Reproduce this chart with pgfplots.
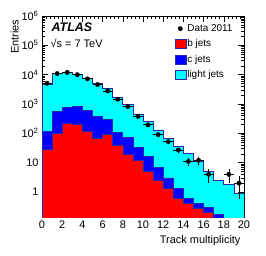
\documentclass[border=0pt]{standalone}
\usepackage{fontspec}
\setmainfont{Liberation Sans}
\usepackage{pgfplots}
\pgfplotsset{compat=1.18}
\definecolor{histline}{RGB}{40,40,170}
\definecolor{rootcyan}{RGB}{0,255,255}
\definecolor{rootblue}{RGB}{0,0,255}
\definecolor{rootred}{RGB}{255,0,0}
\begin{document}
\begin{tikzpicture}
\useasboundingbox (0,0) rectangle (266bp,256bp);
\begin{axis}[
 at={(42bp,39bp)}, anchor=south west,
 scale only axis, width=202bp, height=201bp,
 ymode=log, xmin=0, xmax=20, ymin=0.14, ymax=1e6,
 xtick={0,2,...,20}, minor x tick num=4,
 ytick={1,10,100,1000,10000,100000,1000000},
 yticklabels={1,10,10\textsuperscript{2},10\textsuperscript{3},10\textsuperscript{4},10\textsuperscript{5},10\textsuperscript{6}},
 minor ytick={0.2,0.3,0.4,0.5,0.6,0.7,0.8,0.9,2,3,4,5,6,7,8,9,20,30,40,50,60,70,80,90,200,300,400,500,600,700,800,900,2000,3000,4000,5000,6000,7000,8000,9000,20000,30000,40000,50000,60000,70000,80000,90000,200000,300000,400000,500000,600000,700000,800000,900000},
 tick align=inside, xtick pos=both, ytick pos=both, xticklabel pos=left, yticklabel pos=left,
 major tick length=6bp, minor tick length=3bp,
 /pgf/number format/assume math mode=true,
 ticklabel style={font=\fontsize{11}{13}\selectfont},
 xlabel={Track multiplicity}, ylabel={Entries},
 label style={font=\fontsize{11}{13}\selectfont},
 xlabel style={at={(ticklabel cs:1)}, anchor=north east},
 ylabel style={at={(ticklabel cs:1,-4bp)}, anchor=south east},
 axis line style={line width=0.8bp},
 every tick/.style={black, line width=0.6bp},
 legend style={at={(0.655,0.965)}, anchor=north west, draw=none, fill=none,
   font=\fontsize{10}{12}\selectfont, row sep=4.3bp, inner sep=0pt, nodes={inner sep=1.2bp}},
 legend cell align=left,
]
\addlegendimage{only marks, mark=*, mark size=2.2bp, black}
\addlegendentry{Data 2011}
\addlegendimage{legend image code/.code={\draw[fill=rootred, draw=histline, line width=0.6bp] (3bp,-4.5bp) rectangle (14bp,4.5bp);}}
\addlegendentry{b jets}
\addlegendimage{legend image code/.code={\draw[fill=rootblue, draw=histline, line width=0.6bp] (3bp,-4.5bp) rectangle (14bp,4.5bp);}}
\addlegendentry{c jets}
\addlegendimage{legend image code/.code={\draw[fill=rootcyan, draw=histline, line width=0.6bp] (3bp,-4.5bp) rectangle (14bp,4.5bp);}}
\addlegendentry{light jets}

% light jets (stack total)
\addplot[const plot, fill=rootcyan, draw=histline, line width=0.7bp, forget plot] coordinates {
(0,0.01) (0,4500) (1,11000) (2,12000) (3,10000) (4,7400) (5,5000) (6,3300) (7,1700) (8,950) (9,440)
(10,250) (11,130) (12,68) (13,35) (14,21) (15,11) (16,5) (17,2.5) (18,1.8) (19,0.9) (20,0.9) (20,0.01)} -- cycle;
% c jets (b+c)
\addplot[const plot, fill=rootblue, draw=histline, line width=0.7bp, forget plot] coordinates {
(0,0.01) (0,115) (1,560) (2,760) (3,820) (4,600) (5,380) (6,290) (7,110) (8,70) (9,32)
(10,16) (11,7) (12,3) (13,1.3) (14,0.6) (15,0.42) (16,0.3) (17,0.17) (18,0.01) (19,0.01) (20,0.01)} -- cycle;
% b jets
\addplot[const plot, fill=rootred, draw=histline, line width=0.5bp, forget plot] coordinates {
(0,0.01) (0,29) (1,100) (2,220) (3,210) (4,120) (5,66) (6,95) (7,40) (8,19) (9,12)
(10,4.9) (11,2.6) (12,1.3) (13,0.61) (14,0.41) (15,0.28) (16,0.21) (17,0.01) (18,0.01) (19,0.01) (20,0.01)} -- cycle;
% data
\addplot[only marks, mark=*, mark size=2.2bp, black, forget plot,
  error bars/.cd, x dir=both, x explicit, y dir=both, y explicit, error mark=none,
  error bar style={line width=0.7bp, black}] coordinates {
(0.5,5100) +- (0.5,71)
(1.5,10900) +- (0.5,104)
(2.5,11900) +- (0.5,109)
(3.5,10000) +- (0.5,100)
(4.5,7200) +- (0.5,85)
(5.5,4600) +- (0.5,68)
(6.5,2800) +- (0.5,53)
(7.5,1450) +- (0.5,38)
(8.5,820) +- (0.5,29)
(9.5,380) +- (0.5,19.5)
(10.5,195) +- (0.5,14)
(11.5,90) +- (0.5,9.5)
(12.5,52) +- (0.5,7.2)
(13.5,27) +- (0.5,5.2)
(14.5,11) +- (0.5,3.3)
(15.5,12) +- (0.5,3.5)
(16.5,4) +- (0.5,2)
(18.5,4) +- (0.5,2)
(19.5,2) +- (0.5,1.41)
};
\node[anchor=west, font=\bfseries\itshape\fontsize{12.5}{14}\selectfont] at (rel axis cs:0.03,0.945) {ATLAS};
\node[anchor=west, font=\fontsize{11}{13}\selectfont] at (rel axis cs:0.025,0.865) {√s = 7 TeV};
\end{axis}
\end{tikzpicture}
\end{document}
